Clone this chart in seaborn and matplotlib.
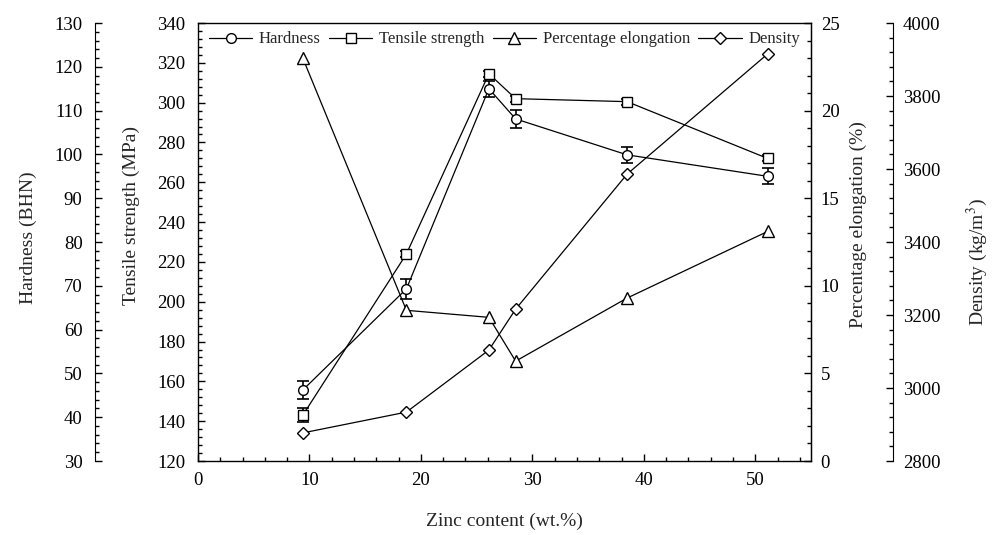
import matplotlib
matplotlib.use("Agg")
import matplotlib.pyplot as plt
import seaborn as sns
from matplotlib.ticker import MultipleLocator

# Zinc content of the alloys (wt.%)
zinc = [9.4, 18.7, 26.1, 28.5, 38.5, 51.1]

# Measured properties
hardness = [46.2, 69.3, 115.0, 108.1, 99.9, 95.0]          # BHN
hardness_err = [2.0, 2.3, 1.8, 2.0, 1.8, 1.8]
tensile = [143.0, 224.0, 314.5, 302.0, 300.5, 272.0]       # MPa
tensile_err = [3.5, 1.5, 1.5, 1.5, 1.5, 1.5]
elongation = [23.0, 8.6, 8.2, 5.7, 9.3, 13.1]              # %
density = [2877, 2934, 3104, 3216, 3586, 3915]             # kg/m^3

sns.set_style("ticks")
plt.rcParams["font.family"] = ["Liberation Serif", "DejaVu Serif"]
plt.rcParams["mathtext.fontset"] = "stix"
plt.rcParams["axes.edgecolor"] = "black"
plt.rcParams["xtick.color"] = "black"
plt.rcParams["ytick.color"] = "black"

fig = plt.figure(figsize=(10, 5.35), dpi=100)
ax = fig.add_axes([0.198, 0.1383, 0.613, 0.8187])
ax_h = ax.twinx()
ax_e = ax.twinx()
ax_d = ax.twinx()

line_kw = dict(color="black", linewidth=0.9, markersize=7,
               markerfacecolor="white", markeredgecolor="black",
               markeredgewidth=1.0)
err_kw = dict(fmt="none", ecolor="black", elinewidth=1.2, capsize=4.5,
              capthick=1.2)

# Series
ax_h.errorbar(zinc, hardness, yerr=hardness_err, **err_kw)
sns.lineplot(x=zinc, y=hardness, ax=ax_h, marker="o", label="Hardness",
             legend=False, **line_kw)
ax.errorbar(zinc, tensile, yerr=tensile_err, **err_kw)
sns.lineplot(x=zinc, y=tensile, ax=ax, marker="s", label="Tensile strength",
             legend=False, **line_kw)
sns.lineplot(x=zinc, y=elongation, ax=ax_e, marker="^",
             label="Percentage elongation", legend=False,
             **{**line_kw, "markersize": 8})
sns.lineplot(x=zinc, y=density, ax=ax_d, marker="D", label="Density",
             legend=False, **{**line_kw, "markersize": 6.5})

tick_font = 13.5
label_font = 14

# Main axes: zinc content and tensile strength
ax.set_xlim(0, 55)
ax.set_ylim(120, 340)
ax.xaxis.set_major_locator(MultipleLocator(10))
ax.xaxis.set_minor_locator(MultipleLocator(2))
ax.yaxis.set_major_locator(MultipleLocator(20))
ax.yaxis.set_minor_locator(MultipleLocator(4))
ax.tick_params(which="both", direction="in", labelsize=tick_font,
               top=False, right=False, width=1.0)
ax.tick_params(which="major", length=5)
ax.tick_params(which="minor", length=3)
ax.tick_params(axis="y", pad=9)
ax.tick_params(axis="x", pad=8)
ax.set_xlabel("Zinc content (wt.%)", fontsize=label_font)
ax.set_ylabel("Tensile strength (MPa)", fontsize=label_font)
for s in ax.spines.values():
    s.set_linewidth(1.0)

# Hardness axis, offset to the far left
ax_h.set_ylim(30, 130)
ax_h.yaxis.set_major_locator(MultipleLocator(10))
ax_h.yaxis.set_minor_locator(MultipleLocator(2))
ax_h.yaxis.set_ticks_position("left")
ax_h.yaxis.set_label_position("left")
ax_h.spines["left"].set_position(("axes", -0.168))
ax_h.spines["left"].set_visible(True)
for side in ("right", "top", "bottom"):
    ax_h.spines[side].set_visible(False)
ax_h.tick_params(which="both", direction="in", labelsize=tick_font, pad=9,
                 width=1.0)
ax_h.tick_params(which="major", length=5)
ax_h.tick_params(which="minor", length=3)
ax_h.set_ylabel("Hardness (BHN)", fontsize=label_font)

# Elongation axis on the right edge of the plot
ax_e.set_ylim(0, 25)
ax_e.yaxis.set_major_locator(MultipleLocator(5))
ax_e.yaxis.set_minor_locator(MultipleLocator(1))
for side in ("left", "top", "bottom"):
    ax_e.spines[side].set_visible(False)
ax_e.tick_params(which="both", direction="in", labelsize=tick_font, pad=7,
                 width=1.0)
ax_e.tick_params(which="major", length=5)
ax_e.tick_params(which="minor", length=3)
ax_e.set_ylabel("Percentage elongation (%)", fontsize=label_font)

# Density axis, offset to the far right
ax_d.set_ylim(2800, 4000)
ax_d.yaxis.set_major_locator(MultipleLocator(200))
ax_d.yaxis.set_minor_locator(MultipleLocator(40))
ax_d.spines["right"].set_position(("axes", 1.134))
for side in ("left", "top", "bottom"):
    ax_d.spines[side].set_visible(False)
ax_d.tick_params(which="both", direction="in", labelsize=tick_font, pad=7,
                 width=1.0)
ax_d.tick_params(which="major", length=5)
ax_d.tick_params(which="minor", length=3)
ax_d.set_ylabel("Density (kg/m$^{3}$)", fontsize=label_font)

# Axis title placement
for a, (xc, yc) in ((ax_h, (-0.277, 0.51)), (ax, (-0.108, 0.56)),
                    (ax_e, (1.077, 0.54)), (ax_d, (1.271, 0.455))):
    a.yaxis.label.set_verticalalignment("center")
    a.yaxis.set_label_coords(xc, yc)
ax.xaxis.label.set_verticalalignment("center")
ax.xaxis.set_label_coords(0.5, -0.137)

# Legend across the top of the plot
handles = [ax_h.lines[-1], ax.lines[-1], ax_e.lines[-1], ax_d.lines[-1]]
labels = ["Hardness", "Tensile strength", "Percentage elongation", "Density"]
ax_d.legend(handles, labels, loc="upper center", bbox_to_anchor=(0.5, 1.0),
            ncol=4, frameon=False, fontsize=12, handlelength=2.6,
            handletextpad=0.4, columnspacing=0.5, borderaxespad=0.1)

fig.savefig("out.png", dpi=100, facecolor="white")
